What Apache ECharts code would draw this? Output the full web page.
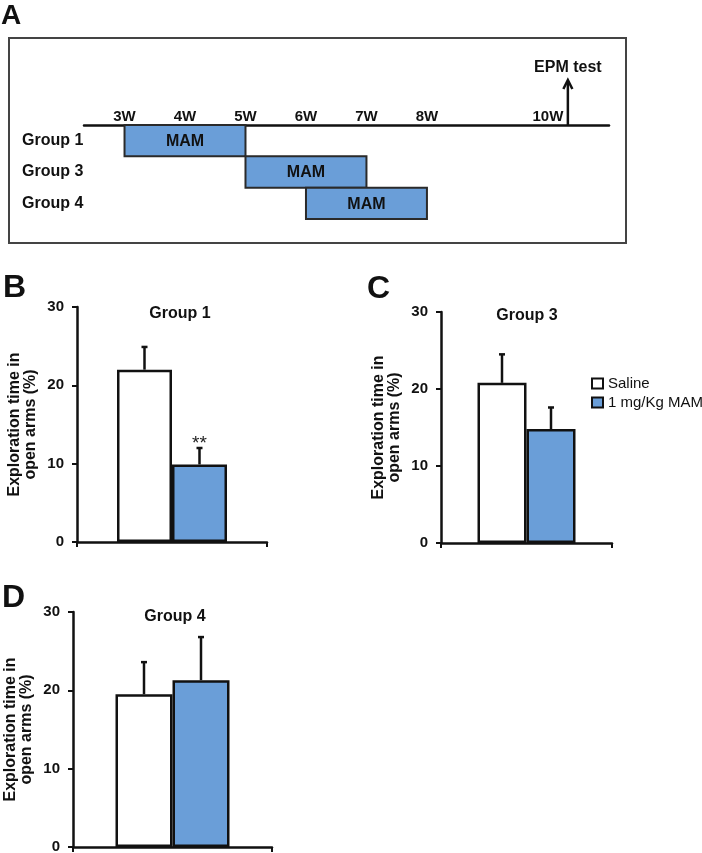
<!DOCTYPE html>
<html><head><meta charset="utf-8">
<script src="https://cdn.jsdelivr.net/npm/echarts@6/dist/echarts.min.js"></script>
<style>html,body{margin:0;padding:0;background:#fff}#c{width:702px;height:853px}</style>
</head><body><div id="c"></div>
<script>
// ---- Panel A: treatment timeline ----
const timelineGroups = ['Group 1', 'Group 3', 'Group 4'];
const mamStartWeek = [3, 5, 6];
const mamEndWeek = [5, 7, 8];
const weekTicks = [3, 4, 5, 6, 7, 8, 10];
const epmWeek = 10.33;
const epmLabel = 'EPM test';
const treatmentLabel = 'MAM';

// ---- Panels B-D: exploration time in open arms (%) ----
const panelLetters = ['B', 'C', 'D'];
const panelTitles = ['Group 1', 'Group 3', 'Group 4'];
const seriesNames = ['Saline', '1 mg/Kg MAM'];
const salineMean = [22.0, 20.8, 19.5];
const salineSEM = [2.9, 3.7, 4.1];
const mamMean = [9.9, 14.8, 21.3];
const mamSEM = [2.1, 2.8, 5.5];
const mamSig = ['**', '', ''];
const yMin = 0, yMax = 30, yStep = 10;
const yAxisName = 'Exploration time in\nopen arms (%)';

const FONT = '"Liberation Sans", Arial, Helvetica, sans-serif';
const BLUE = '#6a9ed8';
const INK = '#111';

const chart = echarts.init(document.getElementById('c'), null, {renderer: 'canvas'});

const panelGrids = [
  {left: 77, top: 307, width: 190, height: 235, barWidth: 55, titleX: 180, titleY: 314, letterX: 3, letterY: 288},
  {left: 441, top: 312, width: 171, height: 231, barWidth: 49, titleX: 527, titleY: 316, letterX: 367, letterY: 289},
  {left: 73, top: 612, width: 199, height: 235, barWidth: 57, titleX: 175, titleY: 617, letterX: 2, letterY: 598}
];

const grid = [
  {left: 84, top: 125, width: 525, height: 94, outerBoundsMode: 'none'}
].concat(panelGrids.map(g => ({left: g.left, top: g.top, width: g.width, height: g.height, outerBoundsMode: 'none'})));

const xAxis = [{
  type: 'value', gridIndex: 0, min: 2.33, max: 11.01, position: 'top',
  axisLine: {show: true, lineStyle: {color: INK, width: 2.5}},
  axisTick: {show: false}, splitLine: {show: false},
  axisLabel: {show: true, customValues: weekTicks, formatter: v => v + 'W', margin: 1,
    color: INK, fontFamily: FONT, fontWeight: 'bold', fontSize: 15}
}];
const yAxis = [{
  type: 'category', gridIndex: 0, data: timelineGroups, inverse: true,
  axisLine: {show: false}, axisTick: {show: false}, splitLine: {show: false},
  axisLabel: {align: 'left', margin: 62, padding: [3, 0, 0, 0], color: INK, fontFamily: FONT, fontWeight: 'bold', fontSize: 16}
}];

panelGrids.forEach((g, i) => {
  xAxis.push({
    type: 'category', gridIndex: i + 1, data: [panelTitles[i]],
    axisLine: {show: true, onZero: false, lineStyle: {color: INK, width: 2.5}},
    axisTick: {show: true, length: 5, interval: 0, lineStyle: {color: INK, width: 2}},
    axisLabel: {show: false}, splitLine: {show: false}
  });
  yAxis.push({
    type: 'value', gridIndex: i + 1, min: yMin, max: yMax, interval: yStep,
    name: yAxisName, nameLocation: 'middle', nameRotate: 90, nameGap: 38,
    nameTextStyle: {color: INK, fontFamily: FONT, fontWeight: 'bold', fontSize: 16, lineHeight: 16, align: 'center'},
    axisLine: {show: true, lineStyle: {color: INK, width: 2.5}},
    axisTick: {show: true, length: 5, lineStyle: {color: INK, width: 2}},
    splitLine: {show: false},
    axisLabel: {margin: 13, color: INK, fontFamily: FONT, fontWeight: 'bold', fontSize: 15}
  });
});

const series = [];

// Timeline MAM bars
series.push({
  type: 'custom', xAxisIndex: 0, yAxisIndex: 0, silent: true,
  data: timelineGroups.map((g, i) => [mamStartWeek[i], mamEndWeek[i], i]),
  encode: {x: [0, 1], y: 2},
  renderItem: function (params, api) {
    const idx = api.value(2);
    const s = api.coord([api.value(0), idx]);
    const e = api.coord([api.value(1), idx]);
    const h = api.size([0, 1])[1];
    return {type: 'group', children: [
      {type: 'rect', shape: {x: s[0], y: s[1] - h / 2, width: e[0] - s[0], height: h},
        style: {fill: BLUE, stroke: '#2a2a2a', lineWidth: 2}},
      {type: 'text', x: (s[0] + e[0]) / 2, y: s[1] + 1,
        style: {text: treatmentLabel, fill: INK, font: 'bold 16px ' + FONT, align: 'center', verticalAlign: 'middle'}}
    ]};
  }
});

// EPM test arrow
series.push({
  type: 'custom', xAxisIndex: 0, yAxisIndex: 0, silent: true, clip: false,
  data: [[epmWeek, 0]],
  encode: {x: 0, y: 1},
  renderItem: function (params, api) {
    const c = api.coord([api.value(0), api.value(1)]);
    const h = api.size([0, 1])[1];
    const base = c[1] - h / 2;
    const top = base - 45;
    return {type: 'group', children: [
      {type: 'line', shape: {x1: c[0], y1: base, x2: c[0], y2: top + 1}, style: {stroke: INK, lineWidth: 2.5}},
      {type: 'polyline', shape: {points: [[c[0] - 4.5, top + 9], [c[0], top], [c[0] + 4.5, top + 9]]},
        style: {stroke: INK, lineWidth: 2.5, fill: null}},
      {type: 'text', x: c[0], y: top - 12,
        style: {text: epmLabel, fill: INK, font: 'bold 16px ' + FONT, align: 'center', verticalAlign: 'middle'}}
    ]};
  }
});

panelGrids.forEach((g, i) => {
  const common = {type: 'bar', xAxisIndex: i + 1, yAxisIndex: i + 1, barWidth: g.barWidth, barGap: '0%', silent: true};
  series.push(Object.assign({}, common, {
    name: seriesNames[0], data: [salineMean[i]],
    itemStyle: {color: '#ffffff', borderColor: INK, borderWidth: 2.5}
  }));
  series.push(Object.assign({}, common, {
    name: seriesNames[1], data: [mamMean[i]],
    itemStyle: {color: BLUE, borderColor: INK, borderWidth: 2.5}
  }));
  const bw = g.barWidth;
  series.push({
    type: 'custom', xAxisIndex: i + 1, yAxisIndex: i + 1, silent: true, z: 5,
    data: [
      [0, salineMean[i], salineMean[i] + salineSEM[i], -1, ''],
      [0, mamMean[i], mamMean[i] + mamSEM[i], 1, mamSig[i]]
    ],
    encode: {x: 0, y: 2},
    renderItem: function (params, api) {
      const b = api.coord([api.value(0), api.value(1)]);
      const t = api.coord([api.value(0), api.value(2)]);
      const x = b[0] + api.value(3) * bw / 2;
      const children = [
        {type: 'line', shape: {x1: x, y1: b[1], x2: x, y2: t[1]}, style: {stroke: INK, lineWidth: 2.5}},
        {type: 'line', shape: {x1: x - 3, y1: t[1], x2: x + 3, y2: t[1]}, style: {stroke: INK, lineWidth: 2.5}}
      ];
      const sig = api.value(4);
      if (sig) {
        children.push({type: 'text', x: x, y: t[1] - 4,
          style: {text: sig, fill: '#222', font: '19px ' + FONT, align: 'center', verticalAlign: 'middle'}});
      }
      return {type: 'group', children: children};
    }
  });
});

const graphic = [
  {type: 'rect', shape: {x: 9, y: 38, width: 617, height: 205}, style: {fill: null, stroke: '#444', lineWidth: 2}, z: 0},
  {type: 'text', x: 1, y: 16, style: {text: 'A', fill: INK, font: 'bold 28px ' + FONT, align: 'left', verticalAlign: 'middle'}}
];
panelGrids.forEach((g, i) => {
  graphic.push({type: 'text', x: g.letterX, y: g.letterY,
    style: {text: panelLetters[i], fill: INK, font: 'bold 32px ' + FONT, align: 'left', verticalAlign: 'middle'}});
  graphic.push({type: 'text', x: g.titleX, y: g.titleY,
    style: {text: panelTitles[i], fill: INK, font: 'bold 16px ' + FONT, align: 'center', verticalAlign: 'middle'}});
});

chart.setOption({
  backgroundColor: '#ffffff',
  animation: false,
  grid: grid,
  xAxis: xAxis,
  yAxis: yAxis,
  legend: {
    data: seriesNames, orient: 'vertical', left: 591, top: 376, padding: 0,
    icon: 'rect', itemWidth: 11, itemHeight: 10, itemGap: 4,
    textStyle: {color: INK, fontFamily: FONT, fontSize: 15},
    itemStyle: {borderColor: INK, borderWidth: 2}
  },
  series: series,
  graphic: graphic
});
</script>
</body></html>
